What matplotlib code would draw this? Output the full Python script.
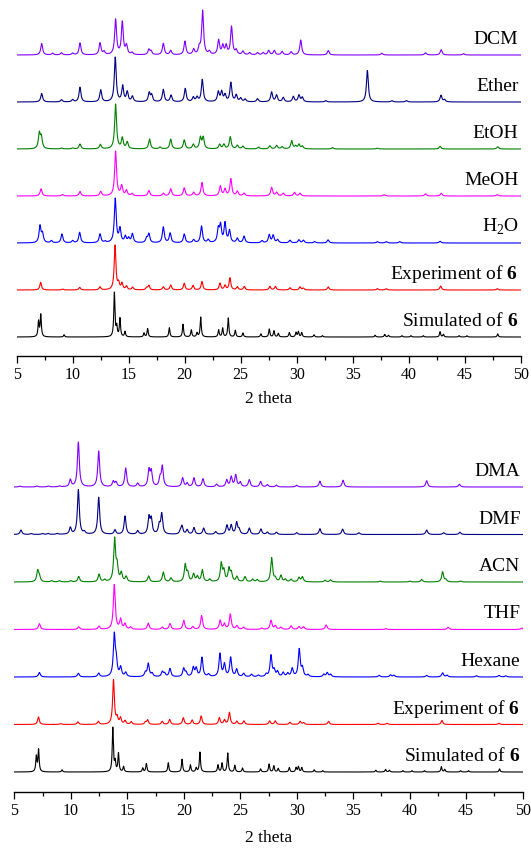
import matplotlib
matplotlib.use('Agg')
import matplotlib.pyplot as plt
import numpy as np

plt.rcParams['font.family'] = ['Liberation Serif', 'DejaVu Serif']
plt.rcParams['mathtext.fontset'] = 'custom'
plt.rcParams['mathtext.rm'] = 'Liberation Serif'
plt.rcParams['mathtext.bf'] = 'Liberation Serif:bold'

# пики (2theta, относительная высота)
sim_pos = [6.95, 7.15, 9.23, 13.72, 13.93, 14.22, 14.67, 16.37, 16.69, 18.63, 19.85, 20.59, 21.1, 21.43,
           23.03, 23.39, 23.89, 24.52, 25.2, 26.8, 27.55, 27.97, 28.36, 29.34, 29.94, 30.15, 30.45,
           31.55, 32.3, 37.0, 37.86, 38.2, 39.4, 40.2, 41.3, 42.8, 43.1, 44.5, 45.2, 47.95]
sim_h = [0.35, 0.5, 0.05, 1.0, 0.22, 0.42, 0.12, 0.09, 0.19, 0.21, 0.29, 0.16, 0.09, 0.45,
         0.16, 0.2, 0.43, 0.15, 0.09, 0.07, 0.18, 0.14, 0.08, 0.1, 0.1, 0.12, 0.1,
         0.05, 0.03, 0.04, 0.06, 0.04, 0.03, 0.03, 0.03, 0.12, 0.06, 0.03, 0.03, 0.07]

exp_pos = [7.14, 9.1, 10.62, 12.44, 13.78, 14.1, 14.4, 14.8, 15.35, 16.6, 16.8, 18.09, 18.75, 19.96,
           20.74, 21.54, 23.15, 23.6, 24.04, 24.7, 25.32, 27.6, 28.1, 29.4, 30.3, 30.6, 32.82,
           37.2, 38.0, 42.85, 47.9]
exp_h = [0.17, 0.02, 0.06, 0.07, 1.0, 0.14, 0.14, 0.08, 0.06, 0.05, 0.1, 0.07, 0.11, 0.15,
         0.1, 0.19, 0.15, 0.1, 0.27, 0.07, 0.08, 0.08, 0.08, 0.05, 0.07, 0.04, 0.07,
         0.03, 0.03, 0.09, 0.03]

h2o_pos = [7.08, 7.3, 8.1, 9.04, 10.0, 10.62, 12.44, 12.9, 13.8, 14.22, 14.7, 15.0, 15.33, 16.6, 16.8,
           18.09, 18.7, 19.96, 20.8, 21.5, 22.1, 23.0, 23.2, 23.6, 24.0, 24.7, 25.3, 26.9,
           27.55, 27.9, 28.3, 29.4, 30.2, 30.6, 31.6, 32.8, 37.2, 38.0, 39.2, 42.8]
h2o_h = [0.38, 0.2, 0.05, 0.2, 0.05, 0.24, 0.2, 0.03, 1.0, 0.31, 0.14, 0.1, 0.2, 0.1, 0.2,
         0.36, 0.22, 0.2, 0.07, 0.38, 0.07, 0.3, 0.38, 0.44, 0.27, 0.1, 0.15, 0.05,
         0.18, 0.17, 0.07, 0.06, 0.07, 0.06, 0.03, 0.07, 0.03, 0.03, 0.03, 0.04]

meoh_pos = [7.17, 9.1, 10.65, 12.5, 13.83, 14.37, 14.8, 15.3, 16.8, 18.1, 18.75, 19.96, 20.8, 21.54,
            23.18, 23.6, 24.12, 24.7, 25.3, 27.76, 28.2, 28.8, 29.8, 30.3, 37.8, 41.5, 42.9, 47.9]
meoh_h = [0.16, 0.03, 0.1, 0.1, 1.0, 0.22, 0.12, 0.05, 0.12, 0.06, 0.16, 0.18, 0.08, 0.3,
          0.22, 0.15, 0.38, 0.1, 0.06, 0.19, 0.08, 0.06, 0.08, 0.06, 0.03, 0.05, 0.06, 0.03]

etoh_pos = [7.02, 7.2, 9.0, 10.0, 10.65, 12.47, 13.83, 14.43, 14.87, 16.86, 17.8, 18.75, 19.96, 20.77,
            21.4, 21.65, 23.12, 23.5, 24.07, 24.7, 25.2, 26.6, 27.6, 28.2, 28.7, 29.55, 29.9,
            30.2, 30.5, 33.2, 37.2, 42.8, 47.95]
etoh_h = [0.34, 0.25, 0.02, 0.02, 0.11, 0.1, 1.0, 0.24, 0.15, 0.22, 0.04, 0.22, 0.2, 0.1,
          0.25, 0.25, 0.1, 0.1, 0.27, 0.08, 0.06, 0.04, 0.07, 0.08, 0.05, 0.18, 0.06,
          0.1, 0.06, 0.03, 0.02, 0.06, 0.05]

ether_pos = [7.23, 9.0, 10.0, 10.65, 12.5, 13.8, 14.46, 14.87, 15.33, 16.83, 17.05, 18.09, 18.78, 20.05,
             20.77, 21.1, 21.57, 23.0, 23.3, 23.6, 24.12, 24.6, 25.0, 25.4, 26.5, 27.76, 28.2,
             28.8, 29.7, 30.2, 30.5, 32.6, 36.31, 38.5, 39.8, 42.88, 43.2]
ether_h = [0.19, 0.05, 0.05, 0.33, 0.27, 1.0, 0.35, 0.22, 0.12, 0.2, 0.15, 0.28, 0.15, 0.3,
           0.1, 0.1, 0.5, 0.22, 0.22, 0.15, 0.43, 0.15, 0.08, 0.06, 0.07, 0.22, 0.15,
           0.1, 0.12, 0.15, 0.1, 0.03, 0.71, 0.03, 0.03, 0.15, 0.05]

dcm_pos = [7.23, 8.2, 9.0, 10.0, 10.65, 12.44, 12.8, 13.83, 14.43, 14.8, 15.3, 16.8, 17.0, 18.09,
           18.75, 20.02, 20.8, 21.3, 21.6, 22.2, 23.03, 23.4, 23.7, 24.18, 24.6, 25.2, 25.8,
           26.5, 27.0, 27.5, 28.0, 28.7, 29.5, 30.36, 32.82, 37.6, 41.5, 42.9, 44.9]
dcm_h = [0.26, 0.04, 0.05, 0.04, 0.27, 0.27, 0.07, 0.8, 0.74, 0.2, 0.05, 0.12, 0.08, 0.26,
         0.1, 0.31, 0.12, 0.15, 1.0, 0.07, 0.33, 0.2, 0.2, 0.64, 0.1, 0.08, 0.05,
         0.05, 0.05, 0.1, 0.1, 0.08, 0.07, 0.34, 0.1, 0.04, 0.05, 0.12, 0.03]

hex_pos = [7.22, 10.67, 12.47, 13.85, 14.02, 14.41, 14.86, 16.6, 16.86, 17.2, 18.1, 18.3, 18.78, 19.99,
           20.2, 20.84, 21.1, 21.61, 22.2, 23.2, 23.6, 24.15, 24.68, 25.3, 26.0, 26.6, 27.3,
           27.72, 28.0, 28.3, 28.8, 29.2, 29.6, 30.22, 30.5, 31.0, 32.4, 32.7, 33.0, 37.3,
           38.3, 38.6, 41.5, 42.91, 43.3, 45.9, 47.9, 48.5]
hex_h = [0.11, 0.09, 0.09, 1.0, 0.35, 0.22, 0.1, 0.1, 0.32, 0.08, 0.12, 0.08, 0.2, 0.2,
         0.1, 0.22, 0.2, 0.47, 0.06, 0.56, 0.3, 0.47, 0.18, 0.08, 0.06, 0.04, 0.06,
         0.52, 0.15, 0.12, 0.1, 0.08, 0.2, 0.67, 0.2, 0.05, 0.06, 0.1, 0.06, 0.04,
         0.05, 0.04, 0.04, 0.1, 0.04, 0.03, 0.04, 0.03]

thf_pos = [7.22, 10.7, 12.5, 13.85, 14.41, 14.8, 15.3, 16.86, 18.1, 18.78, 20.0, 20.8, 21.58, 23.22,
           23.6, 24.12, 24.7, 25.3, 26.9, 27.72, 28.1, 28.6, 29.5, 30.2, 30.6, 32.6, 37.9, 43.4, 49.9]
thf_h = [0.13, 0.06, 0.07, 1.0, 0.22, 0.12, 0.05, 0.14, 0.05, 0.13, 0.2, 0.06, 0.31, 0.2,
         0.12, 0.34, 0.08, 0.05, 0.03, 0.2, 0.08, 0.05, 0.08, 0.06, 0.06, 0.1, 0.02, 0.05, 0.03]

acn_pos = [7.07, 7.22, 8.3, 9.0, 10.0, 10.7, 12.5, 13.0, 13.88, 14.1, 14.47, 14.9, 16.89, 18.19,
           18.87, 20.13, 20.35, 20.87, 21.2, 21.64, 22.3, 23.32, 23.55, 24.0, 24.2, 24.7, 25.42,
           26.1, 26.5, 27.78, 28.1, 28.6, 29.0, 29.5, 30.2, 30.5, 32.5, 33.0, 37.4, 40.0,
           41.05, 42.91, 43.2, 44.5]
acn_h = [0.26, 0.12, 0.03, 0.03, 0.03, 0.13, 0.18, 0.05, 1.0, 0.35, 0.2, 0.12, 0.14, 0.23,
         0.09, 0.4, 0.2, 0.18, 0.12, 0.28, 0.06, 0.43, 0.25, 0.3, 0.2, 0.12, 0.12,
         0.06, 0.05, 0.57, 0.08, 0.15, 0.06, 0.06, 0.1, 0.12, 0.04, 0.05, 0.02, 0.02,
         0.06, 0.24, 0.05, 0.02]

dmf_pos = [5.59, 6.5, 7.5, 8.0, 8.8, 9.96, 10.67, 11.2, 12.47, 13.91, 14.8, 15.92, 16.92, 17.12,
           17.83, 18.05, 19.7, 19.84, 20.3, 20.9, 21.76, 22.82, 23.82, 24.2, 24.68, 24.9,
           25.8, 26.83, 27.4, 28.2, 30.0, 32.05, 34.06, 35.5, 41.5, 43.0, 44.44]
dmf_h = [0.1, 0.02, 0.02, 0.02, 0.02, 0.15, 1.0, 0.05, 0.83, 0.1, 0.41, 0.08, 0.37, 0.33,
         0.2, 0.45, 0.06, 0.18, 0.1, 0.15, 0.14, 0.06, 0.2, 0.2, 0.26, 0.1,
         0.14, 0.12, 0.05, 0.05, 0.04, 0.13, 0.12, 0.04, 0.1, 0.04, 0.05]

dma_pos = [5.5, 7.0, 8.0, 9.0, 9.96, 10.67, 12.47, 13.76, 14.0, 14.86, 15.92, 16.92, 17.12, 17.9,
           18.1, 19.9, 20.3, 20.9, 21.7, 22.9, 23.8, 24.2, 24.6, 25.0, 25.8, 26.8, 27.4,
           28.2, 30.0, 32.05, 34.1, 41.5, 44.4]
dma_h = [0.02, 0.02, 0.02, 0.02, 0.16, 1.0, 0.8, 0.12, 0.1, 0.42, 0.08, 0.36, 0.33, 0.18,
         0.45, 0.2, 0.08, 0.2, 0.18, 0.06, 0.15, 0.22, 0.26, 0.1, 0.16, 0.12, 0.05,
         0.04, 0.04, 0.13, 0.15, 0.14, 0.06]

top_names = ['Simulated of $\\mathbf{6}$', 'Experiment of $\\mathbf{6}$', 'H$_2$O', 'MeOH', 'EtOH', 'Ether', 'DCM']
bot_names = ['Simulated of $\\mathbf{6}$', 'Experiment of $\\mathbf{6}$', 'Hexane', 'THF', 'ACN', 'DMF', 'DMA']

top_data = [(sim_pos, sim_h), (exp_pos, exp_h), (h2o_pos, h2o_h), (meoh_pos, meoh_h),
            (etoh_pos, etoh_h), (ether_pos, ether_h), (dcm_pos, dcm_h)]
bot_data = [(sim_pos, sim_h), (exp_pos, exp_h), (hex_pos, hex_h), (thf_pos, thf_h),
            (acn_pos, acn_h), (dmf_pos, dmf_h), (dma_pos, dma_h)]

colors = ['black', '#ff0000', '#0000ff', '#ff00ff', '#008000', '#000080', '#8000ff']
widths = [0.06, 0.09, 0.1, 0.1, 0.1, 0.1, 0.1]

x = np.linspace(5, 50, 4000)


def pattern(pos, h, w):
    # профиль Лоренца для каждого пика
    y = np.zeros_like(x)
    for p, a in zip(pos, h):
        y += a * w**2 / ((x - p)**2 + w**2)
    return y / y.max()


def panel(ax, data, names, base0, step, top):
    for i, (pos, h) in enumerate(data):
        base = base0 + i * step
        y = pattern(pos, h, widths[i]) * 45 + base
        ax.plot(x, y, color=colors[i], lw=0.8)
        ax.text(49.8, base + 11, names[i], ha='right', va='baseline', fontsize=14)
    ax.set_xlim(5, 50)
    ax.set_ylim(0, top)
    ax.set_xticks(np.arange(5, 51, 5))
    ax.set_xticks(np.arange(7.5, 50, 5), minor=True)
    for s in ['left', 'right', 'top']:
        ax.spines[s].set_visible(False)
    ax.spines['bottom'].set_linewidth(1.0)
    ax.set_yticks([])
    ax.tick_params(axis='x', which='major', direction='out', length=5, width=0.9, labelsize=11.5, pad=3)
    ax.tick_params(axis='x', which='minor', direction='out', length=3, width=0.9)
    ax.patch.set_alpha(0)


fig = plt.figure(figsize=(5.31, 8.5), dpi=100)
ax1 = fig.add_axes([16.7 / 531, 494 / 850, 504 / 531, 356 / 850])
ax2 = fig.add_axes([14.3 / 531, 58 / 850, 508.4 / 531, 367 / 850])

panel(ax1, top_data, top_names, 19, 47, 356)
panel(ax2, bot_data, bot_names, 20, 47.5, 367)
ax1.set_xlabel('2 theta', fontsize=12.5, labelpad=6)
ax2.set_xlabel('2 theta', fontsize=12.5, labelpad=8)

fig.savefig('out.png', dpi=100)
